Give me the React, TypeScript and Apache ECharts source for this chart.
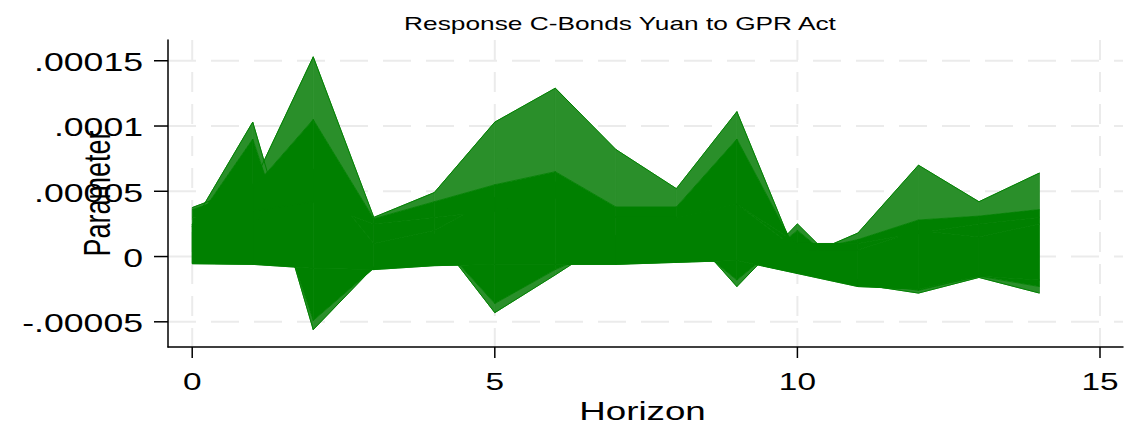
import React, { useEffect, useRef } from "react";
import * as echarts from "echarts";

// Horizons on the x axis
const horizons = [0, 1, 2, 3, 4, 5, 6, 7, 8, 9, 10, 11, 12, 13, 14];

// Response profiles, values in units of 1e-5
const lineA = [2.45, 10.3, -5.6, -0.8, 1.7, -4.3, -1.4, 1.6, 2.9, -2.3, 2.5, -2.1, -2.8, -1.6, -2.8];
const lineA2 = [2.3, 9.0, -4.9, -0.9, 1.5, -3.6, -1.0, 1.0, 2.0, -1.8, 2.0, -1.8, -2.6, -1.5, -2.3];
const coreLow = [-0.55, -0.6, -0.9, -1.0, -0.7, -0.6, -0.6, -0.6, -0.45, -0.3, -1.3, -2.3, -2.5, -1.5, -1.8];
const innerPeak = [2.0, 2.5, 6.7, 1.0, 2.0, 4.5, 5.7, 3.0, 3.0, 4.0, 0.5, 0.5, 2.0, 1.5, 2.5];
const coreHigh = [3.0, 3.5, 4.2, 2.5, 3.0, 3.5, 4.5, 3.0, 3.0, 4.0, 1.0, 1.0, 1.8, 2.5, 3.0];
const lineB2 = [3.6, 5.2, 10.5, 2.9, 4.2, 5.5, 6.5, 3.8, 3.8, 9.0, 0.3, 1.3, 2.8, 3.1, 3.6];
const lineB = [3.75, 5.5, 15.3, 3.0, 4.9, 10.3, 12.9, 8.2, 5.2, 11.1, -0.2, 1.8, 7.0, 4.2, 6.4];

const profiles = [lineA, lineA2, coreLow, innerPeak, coreHigh, lineB2, lineB];
// pairs of neighbouring profiles; the lines between them fill the band
const bands = [
  { from: 0, to: 1, dense: false },
  { from: 5, to: 6, dense: false },
  { from: 1, to: 2, dense: true },
  { from: 2, to: 3, dense: true },
  { from: 3, to: 4, dense: true },
  { from: 4, to: 5, dense: true },
];

const xTicks = [0, 5, 10, 15];
const xTickLabels = ["0", "5", "10", "15"];
const yTicks = [-5, 0, 5, 10, 15];
const yTickLabels = ["-.00005", "0", ".00005", ".0001", ".00015"];

const titleText = "Response C-Bonds Yuan to GPR Act";
const xName = "Horizon";
const yName = "Parameter";

const X_MIN = -0.4;
const X_MAX = 15.38;
const Y_MIN = -6.93;
const Y_MAX = 16.59;

const GREEN = "#008000";
const LIGHT_GREEN = "#2a8f2a";
const GRID_GREY = "#ebebeb";
const FONT = "Liberation Sans, Arial, Helvetica, sans-serif";

export default function App() {
  const ref = useRef<HTMLDivElement>(null);

  useEffect(() => {
    if (!ref.current) return;
    const chart = echarts.init(ref.current, undefined, { renderer: "svg" });

    const bandData: number[][] = [];
    bands.forEach((_, b) => {
      for (let k = 0; k < horizons.length - 1; k++) bandData.push([horizons[k], b]);
    });

    const option: any = {
      animation: false,
      backgroundColor: "#ffffff",
      grid: { left: 168, right: 19, top: 40, bottom: 87, containLabel: false },
      xAxis: {
        type: "value",
        min: X_MIN,
        max: X_MAX,
        axisLine: { show: true, onZero: false, lineStyle: { color: "#000", width: 1.5 } },
        axisTick: { show: false },
        axisLabel: { show: false },
        splitLine: { show: false },
      },
      yAxis: {
        type: "value",
        min: Y_MIN,
        max: Y_MAX,
        axisLine: { show: true, onZero: false, lineStyle: { color: "#000", width: 1.5 } },
        axisTick: { show: false },
        axisLabel: { show: false },
        splitLine: { show: false },
      },
      series: [
        {
          type: "custom",
          z: 2,
          silent: true,
          data: bandData,
          encode: { x: 0, y: 1 },
          renderItem: (params: any, api: any) => {
            const h = api.value(0);
            const band = bands[api.value(1)];
            const P = profiles[band.from];
            const Q = profiles[band.to];
            const color = band.dense ? GREEN : LIGHT_GREEN;
            return {
              type: "polygon",
              shape: {
                points: [
                  api.coord([h, P[h]]),
                  api.coord([h + 1, P[h + 1]]),
                  api.coord([h + 1, Q[h + 1]]),
                  api.coord([h, Q[h]]),
                ],
              },
              style: { fill: color, stroke: color, lineWidth: 0.8 },
            };
          },
        },
        ...[lineA, lineB].map((arr) => ({
          type: "line",
          z: 3,
          silent: true,
          symbol: "none",
          data: horizons.map((h, i) => [h, arr[i]]),
          lineStyle: { color: GREEN, width: 1 },
        })),
      ],
    };

    chart.setOption(option);

    const px = (v: number) => chart.convertToPixel({ xAxisIndex: 0 }, v) as number;
    const py = (v: number) => chart.convertToPixel({ yAxisIndex: 0 }, v) as number;
    const left = px(X_MIN);
    const right = px(X_MAX);
    const top = py(Y_MAX);
    const bottom = py(Y_MIN);

    const graphics: any[] = [];
    // dashed grid lines (under the series)
    yTicks.forEach((v) => {
      graphics.push({
        type: "line",
        z: 0,
        silent: true,
        shape: { x1: left, y1: py(v), x2: right, y2: py(v) },
        style: { stroke: GRID_GREY, lineWidth: 2, lineDash: [28, 15] },
      });
    });
    xTicks.forEach((v) => {
      graphics.push({
        type: "line",
        z: 0,
        silent: true,
        shape: { x1: px(v), y1: top, x2: px(v), y2: bottom },
        style: { stroke: GRID_GREY, lineWidth: 2, lineDash: [20, 12] },
      });
    });
    // ticks
    yTicks.forEach((v) => {
      graphics.push({
        type: "line",
        z: 10,
        silent: true,
        shape: { x1: left - 14, y1: py(v), x2: left, y2: py(v) },
        style: { stroke: "#000", lineWidth: 1.5 },
      });
    });
    xTicks.forEach((v) => {
      graphics.push({
        type: "line",
        z: 10,
        silent: true,
        shape: { x1: px(v), y1: bottom, x2: px(v), y2: bottom + 11 },
        style: { stroke: "#000", lineWidth: 1.5 },
      });
    });
    // tick labels
    yTicks.forEach((v, i) => {
      graphics.push({
        type: "text",
        z: 10,
        x: left - 25,
        y: py(v) + 1.5,
        scaleX: 1.37,
        style: {
          text: yTickLabels[i],
          font: `26px ${FONT}`,
          fill: "#000",
          align: "right",
          verticalAlign: "middle",
        },
      });
    });
    xTicks.forEach((v, i) => {
      graphics.push({
        type: "text",
        z: 10,
        x: px(v),
        y: bottom + 35,
        scaleX: 1.39,
        style: {
          text: xTickLabels[i],
          font: `24px ${FONT}`,
          fill: "#000",
          align: "center",
          verticalAlign: "middle",
        },
      });
    });
    graphics.push({
      type: "text",
      z: 10,
      x: (left + right) / 2 - 3,
      y: bottom + 65,
      scaleX: 1.47,
      style: { text: xName, font: `25px ${FONT}`, fill: "#000", align: "center", verticalAlign: "middle" },
    });
    graphics.push({
      type: "text",
      z: 10,
      x: 97,
      y: (top + bottom) / 2,
      rotation: Math.PI / 2,
      scaleY: 1.4,
      style: { text: yName, font: `27px ${FONT}`, fill: "#000", align: "center", verticalAlign: "middle" },
    });
    graphics.push({
      type: "text",
      z: 10,
      x: 620,
      y: 24,
      scaleX: 1.46,
      style: { text: titleText, font: `18px ${FONT}`, fill: "#000", align: "center", verticalAlign: "middle" },
    });

    chart.setOption({ graphic: graphics });

    return () => chart.dispose();
  }, []);

  return (
    <div
      ref={ref}
      style={{ position: "fixed", left: 0, top: 0, width: 1142, height: 434, background: "#fff" }}
    />
  );
}
